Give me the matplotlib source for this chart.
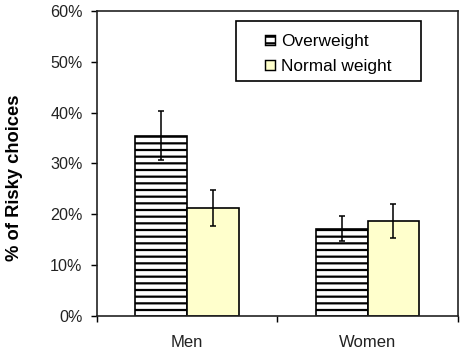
import matplotlib
matplotlib.use('Agg')
from matplotlib import pyplot as plt
from matplotlib.patches import Patch, Rectangle
from matplotlib.ticker import FixedLocator, PercentFormatter
import numpy as np

plt.rcParams['font.family'] = ['Liberation Sans', 'DejaVu Sans']
plt.rcParams['hatch.linewidth'] = 2.0

groups = ['Men', 'Women']
series = ['Overweight', 'Normal weight']
overweight = [35.5, 17.2]
overweight_err = [4.9, 2.4]
normal = [21.3, 18.7]
normal_err = [3.5, 3.3]

DPI = 80
fig = plt.figure(figsize=(461 / DPI, 355 / DPI), dpi=DPI)
ax = fig.add_axes([0.2104, 0.1099, 0.7824, 0.8591])

x = np.arange(len(groups))
w = 0.288
err_kw = dict(ecolor='black', elinewidth=1.4, capsize=3, capthick=1.4)

ax.bar(x - w / 2, overweight, w, yerr=overweight_err, color='white',
       edgecolor='black', linewidth=1.5, hatch='--', error_kw=err_kw, zorder=2)
ax.bar(x + w / 2, normal, w, yerr=normal_err, color='#FFFFCC',
       edgecolor='black', linewidth=1.5, error_kw=err_kw, zorder=2)

ax.set_xlim(-0.5, 1.5)
ax.set_ylim(0, 60)
ax.yaxis.set_major_locator(FixedLocator(np.arange(0, 61, 10)))
ax.yaxis.set_major_formatter(PercentFormatter(decimals=0))

# category ticks at boundaries, labels at centres
ax.xaxis.set_major_locator(FixedLocator([-0.5, 0.5, 1.5]))
ax.xaxis.set_minor_locator(FixedLocator(x))
ax.set_xticklabels([])
ax.set_xticklabels(groups, minor=True)
ax.tick_params(axis='x', which='major', direction='out', length=5, width=1.3)
ax.tick_params(axis='x', which='minor', length=0, pad=17, labelsize=15,
               labelcolor='#222222')
ax.tick_params(axis='y', direction='out', length=5, width=1.3, pad=8,
               labelsize=14.5, labelcolor='#222222')

for s in ax.spines.values():
    s.set_linewidth(1.5)
    s.set_color('#222222')

ax.set_ylabel('% of Risky choices', fontsize=16.5, fontweight='bold')
ax.yaxis.set_label_coords(-0.205, 0.452)

# legend frame
ax.add_patch(Rectangle((0.385, 0.770), 0.513, 0.197, transform=ax.transAxes,
                       facecolor='white', edgecolor='black', linewidth=1.5,
                       zorder=3, clip_on=False))
handles = [Patch(facecolor='white', edgecolor='black', hatch='--', linewidth=1.3),
           Patch(facecolor='#FFFFCC', edgecolor='black', linewidth=1.3)]
leg = ax.legend(handles, series, loc='upper left', bbox_to_anchor=(0.466, 0.925),
                frameon=False, fontsize=15.5, borderpad=0, borderaxespad=0,
                handlelength=0.55, handleheight=0.5, handletextpad=0.4,
                labelspacing=0.6)
leg.set_zorder(4)

fig.savefig('out.png', dpi=DPI)
